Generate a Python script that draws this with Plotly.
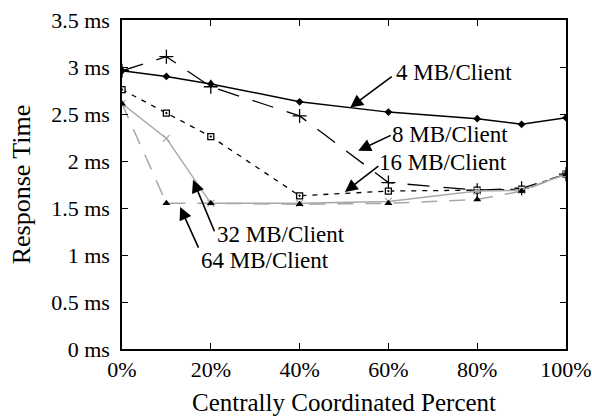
import plotly.graph_objects as go

x_pct = [0, 10, 20, 40, 60, 80, 90, 100]
mb4 = [2.96, 2.90, 2.82, 2.63, 2.52, 2.45, 2.39, 2.46]
mb8 = [2.96, 3.11, 2.79, 2.48, 1.77, 1.69, 1.71, 1.86]
mb16 = [2.76, 2.51, 2.26, 1.63, 1.68, 1.69, 1.70, 1.86]
mb32 = [2.61, 2.24, 1.55, 1.55, 1.57, 1.68, 1.69, 1.86]
mb64 = [2.61, 1.55, 1.55, 1.54, 1.55, 1.59, 1.68, 1.86]

y_tickvals = [0, 0.5, 1, 1.5, 2, 2.5, 3, 3.5]
y_ticktext = ["0 ms", "0.5 ms", "1 ms", "1.5 ms", "2 ms", "2.5 ms", "3 ms", "3.5 ms"]
x_tickvals = [0, 20, 40, 60, 80, 100]
x_ticktext = ["0%", "20%", "40%", "60%", "80%", "100%"]

labels = ["4 MB/Client", "8 MB/Client", "16 MB/Client", "32 MB/Client", "64 MB/Client"]

FONT = "Liberation Serif, Times New Roman, serif"
GRAY = "#a8a8a8"

fig = go.Figure()
fig.add_trace(go.Scatter(x=x_pct, y=mb4, mode="lines+markers", name=labels[0],
                         line=dict(color="black", width=1.5),
                         marker=dict(symbol="diamond", size=6, color="black")))
fig.add_trace(go.Scatter(x=x_pct, y=mb8, mode="lines+markers", name=labels[1],
                         line=dict(color="black", width=1.3, dash="22px,14px"),
                         marker=dict(symbol="cross-thin-open", size=10,
                                     line=dict(color="black", width=1.3))))
fig.add_trace(go.Scatter(x=x_pct, y=mb16, mode="lines+markers", name=labels[2],
                         line=dict(color="black", width=1.3, dash="5px,6px"),
                         marker=dict(symbol="square-dot", size=6, color="white",
                                     line=dict(color="black", width=1.3))))
fig.add_trace(go.Scatter(x=x_pct, y=mb32, mode="lines+markers", name=labels[3],
                         line=dict(color=GRAY, width=1.5),
                         marker=dict(symbol="x-thin-open", size=7,
                                     line=dict(color="black", width=1.2))))
fig.add_trace(go.Scatter(x=x_pct, y=mb64, mode="lines+markers", name=labels[4],
                         line=dict(color=GRAY, width=1.5, dash="16px,12px"),
                         marker=dict(symbol="triangle-up", size=7, color="black")))

# arrows: (head x, head y, tail dx px, tail dy px)
arrows = [
    (51.4, 2.57, 43, -32),
    (53.2, 2.11, 34, -16),
    (50.2, 1.67, 35, -27),
    (16.0, 1.80, 22, 53),
    (13.1, 1.51, 19, 42),
]
for hx, hy, ax, ay in arrows:
    fig.add_annotation(x=hx, y=hy, xref="x", yref="y", text="", showarrow=True,
                       ax=ax, ay=ay, arrowhead=2, arrowsize=1.6, arrowwidth=1.6,
                       arrowcolor="black")

# label positions (left edge, centre y)
label_pos = [(61.3, 2.94), (60.4, 2.28), (57.5, 1.98), (21.0, 1.215), (17.4, 0.94)]
for (lx, ly), txt in zip(label_pos, labels):
    fig.add_annotation(x=lx, y=ly, xref="x", yref="y", text=txt, showarrow=False,
                       xanchor="left", yanchor="middle",
                       font=dict(family=FONT, size=23, color="black"))

fig.update_layout(
    width=592, height=418,
    margin=dict(l=122, r=26, t=20, b=69),
    paper_bgcolor="white", plot_bgcolor="white",
    showlegend=False,
    font=dict(family=FONT, size=22, color="black"),
)
fig.update_xaxes(range=[0, 100], tickvals=x_tickvals, ticktext=x_ticktext,
                 ticks="inside", ticklen=6, tickcolor="black", mirror="ticks",
                 showline=True, linecolor="black", linewidth=1.5, showgrid=False,
                 zeroline=False, tickfont=dict(family=FONT, size=22),
                 automargin=False,
                 title=dict(text="Centrally Coordinated Percent",
                            font=dict(family=FONT, size=25), standoff=12))
fig.update_yaxes(range=[0, 3.5], tickvals=y_tickvals, ticktext=y_ticktext,
                 ticks="inside", ticklen=6, tickcolor="black", mirror="ticks",
                 showline=True, linecolor="black", linewidth=1.5, showgrid=False,
                 zeroline=False, tickfont=dict(family=FONT, size=22),
                 ticklabelstandoff=6, automargin=False,
                 title=dict(text="Response Time",
                            font=dict(family=FONT, size=26), standoff=13))

fig.write_html("out.html", config={"displayModeBar": False},
               post_script="document.body.style.margin='0';document.body.style.overflow='hidden';")
